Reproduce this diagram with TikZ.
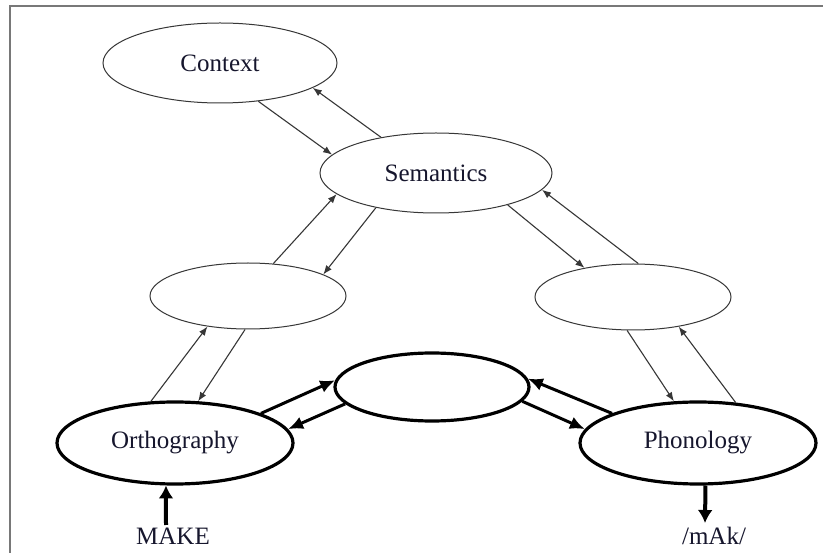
\documentclass[tikz,border=0pt]{standalone}
\usepackage{fontspec}
\setmainfont{Liberation Serif}
\usetikzlibrary{arrows.meta,shapes.geometric}
\definecolor{ink}{RGB}{22,22,45}
\definecolor{edge}{RGB}{55,55,55}
\definecolor{framegray}{RGB}{120,120,120}
\begin{document}
\begin{tikzpicture}[x=1pt,y=-1pt,
  lbl/.style={font=\fontsize{25}{30}\selectfont, text=ink},
  thinell/.style={ellipse, draw=edge, line width=1pt, inner sep=0pt, fill=white, lbl},
  thickell/.style={ellipse, draw=black, line width=3.2pt, inner sep=0pt, fill=white, lbl},
  thinarr/.style={draw=edge, line width=1.1pt, -{Latex[length=9pt,width=7pt]}},
  thickarr/.style={draw=black, line width=3pt, -{Latex[length=15pt,width=13pt]}},
  ioarr/.style={draw=black, line width=4pt, -{Latex[length=13pt,width=15pt]}},
  framestyle/.style={draw=framegray, line width=2pt}
]
\useasboundingbox (0,0) rectangle (823,553);
\fill[white] (0,0) rectangle (823,553);

% outer frame (top and left edges)
\draw[framestyle] (10,553) -- (10,6) -- (823,6);

% processing units
\node[thinell, minimum width=234pt, minimum height=80pt] (ctx) at (220,63) {Context};
\node[thinell, minimum width=232pt, minimum height=80pt] (sem) at (436,173) {Semantics};
\node[thinell, minimum width=196pt, minimum height=66pt] (ml) at (248,296) {};
\node[thinell, minimum width=196pt, minimum height=66pt] (mr) at (633,297) {};
\node[thickell, minimum width=194pt, minimum height=68pt] (ce) at (432,387) {};
\node[thickell, minimum width=236pt, minimum height=82pt] (orth) at (175,443) {Orthography};
\node[thickell, minimum width=236pt, minimum height=82pt] (ph) at (698,443) {Phonology};

% thin two-way links
\draw[thinarr] (ctx.-45) -- (sem.170);
\draw[thinarr] (sem.147) -- (ctx.-15);
\draw[thinarr] (ml.52) -- (sem.192);
\draw[thinarr] (sem.210) -- (ml.16);
\draw[thinarr] (sem.-24) -- (mr.149);
\draw[thinarr] (mr.81) -- (sem.-9);
\draw[thinarr] (orth.120) -- (ml.217);
\draw[thinarr] (ml.-95) -- (orth.61);
\draw[thinarr] (mr.-100) -- (ph.120);
\draw[thinarr] (ph.47) -- (mr.-33);

% thick two-way links through the hidden unit
\draw[thickarr] (orth.19) -- (ce.176);
\draw[thickarr] (ce.191) -- (orth.7);
\draw[thickarr] (ce.-9) -- (ph.173);
\draw[thickarr] (ph.161) -- (ce.5);

% input and output
\node[lbl, anchor=base] (make) at (173,545) {MAKE};
\node[lbl, anchor=base] (mak) at (714,545) {/mAk/};
\coordinate (makein) at (166,525);
\coordinate (makout) at (705,523);
\draw[ioarr] (makein) -- (orth.-102);
\draw[ioarr] (ph.-80) -- (makout);
\end{tikzpicture}
\end{document}
